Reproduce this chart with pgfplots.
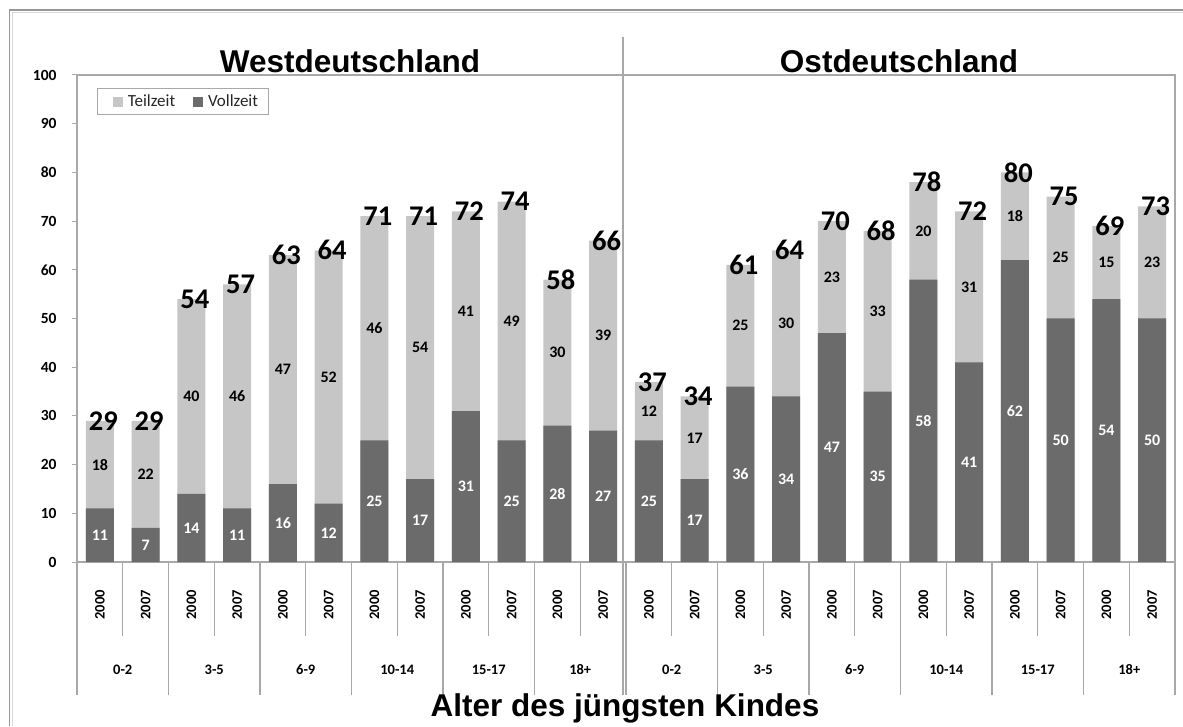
\documentclass[border=0pt]{standalone}
\usepackage{fontspec}
\setmainfont{Carlito}
\newfontfamily\arial{Liberation Sans}
\usepackage{pgfplots}
\pgfplotsset{compat=1.18}
\usepackage{pgfplotstable}
\definecolor{vollc}{HTML}{6B6B6B}
\definecolor{teilc}{HTML}{C6C6C6}
\definecolor{linec}{HTML}{A8A8A8}
\newcommand{\fs}[1]{\fontsize{#1}{#1}\selectfont}

\pgfplotstableread{
x V T S
0 11 18 29
1 7 22 29
2 14 40 54
3 11 46 57
4 16 47 63
5 12 52 64
6 25 46 71
7 17 54 71
8 31 41 72
9 25 49 74
10 28 30 58
11 27 39 66
12 25 12 37
13 17 17 34
14 36 25 61
15 34 30 64
16 47 23 70
17 35 33 68
18 58 20 78
19 41 31 72
20 62 18 80
21 50 25 75
22 54 15 69
23 50 23 73
}\data

\begin{document}
\begin{tikzpicture}[x=1pt,y=1pt]
\path[use as bounding box] (-77,-164) rectangle (1106,562);
% outer frame (left and top)
\draw[linec!120, line width=1.4pt] (-67.5,-164) -- (-67.5,552) -- (1106,552);
\draw[gray!30, line width=1.2pt] (-64.5,-164) -- (-64.5,549.5) -- (1106,549.5);

\begin{axis}[
  at={(0,0)}, anchor=south west, scale only axis,
  width=1098pt, height=487pt,
  xmin=-0.5, xmax=23.5, ymin=0, ymax=100,
  xtick=\empty,
  ytick={0,10,...,100},
  ytick pos=left, tick align=outside, major tick length=5pt,
  tick style={linec, line width=1pt},
  axis line style={linec, line width=1.2pt},
  /pgf/number format/assume math mode=true,
  yticklabel style={font=\bfseries\fs{15.5}, xshift=-12pt},
  clip=false,
  legend columns=2,
  legend style={at={(0,1)}, anchor=north west, xshift=20pt, yshift=-13.5pt,
    draw=linec, line width=0.8pt, font=\fs{17}, text=black!85,
    inner xsep=8pt, inner ysep=4pt,
    /tikz/every odd column/.append style={column sep=3pt},
    /tikz/every even column/.append style={column sep=16pt}},
]
\addlegendimage{legend image code/.code={\path[draw=none, fill=none] (-8pt,-5pt) rectangle (9pt,5pt); \fill[teilc] (0pt,-4.5pt) rectangle (9pt,4.5pt);}}
\addlegendentry{Teilzeit}
\addlegendimage{legend image code/.code={\path[draw=none, fill=none] (0pt,-5pt) rectangle (9pt,5pt); \fill[vollc] (0pt,-4.5pt) rectangle (9pt,4.5pt);}}
\addlegendentry{Vollzeit}
\addplot[forget plot, ybar, bar width=0.61, bar shift=0pt, fill=teilc, draw=none]
  table[x=x, y expr=\thisrow{V}+\thisrow{T}] {\data};
\addplot[forget plot, ybar, bar width=0.61, bar shift=0pt, fill=vollc, draw=none]
  table[x=x, y=V] {\data};
% segment labels
\addplot[forget plot, only marks, mark=*, mark size=0pt, mark options={draw=none, fill=none},
  nodes near coords, point meta=explicit symbolic,
  every node near coord/.append style={font=\bfseries\fs{16}, text=white, anchor=center, inner sep=0pt}]
  table[x=x, y expr=\thisrow{V}/2, meta=V] {\data};
\addplot[forget plot, only marks, mark=*, mark size=0pt, mark options={draw=none, fill=none},
  nodes near coords, point meta=explicit symbolic,
  every node near coord/.append style={font=\bfseries\fs{16}, text=black, anchor=center, inner sep=0pt}]
  table[x=x, y expr=\thisrow{V}+\thisrow{T}/2, meta=T] {\data};
% totals
\addplot[forget plot, only marks, mark=*, mark size=0pt, mark options={draw=none, fill=none},
  nodes near coords, point meta=explicit symbolic,
  every node near coord/.append style={font=\bfseries\fs{28.5}, text=black, anchor=center, inner sep=0pt, xshift=3.5pt}]
  table[x=x, y=S, meta=S] {\data};
\end{axis}

% category separators
\foreach \k in {0,...,24}{
  \ifodd\k
    \draw[linec, line width=1.2pt] ({\k*45.75},0) -- ({\k*45.75},-74);
  \else
    \draw[linec, line width=1.2pt] ({\k*45.75},0) -- ({\k*45.75},-133);
  \fi
}
% year labels
\foreach \k in {0,...,11}{
  \node[rotate=90, font=\bfseries\fs{14.5}, inner sep=0pt] at ({(2*\k+0.5)*45.75},-43) {2000};
  \node[rotate=90, font=\bfseries\fs{14.5}, inner sep=0pt] at ({(2*\k+1.5)*45.75},-43) {2007};
}
% group labels
\foreach \lab [count=\i from 0] in {0-2,3-5,6-9,10-14,15-17,18+,0-2,3-5,6-9,10-14,15-17,18+}{
  \node[font=\bfseries\fs{14.5}, inner sep=0pt] at ({(2*\i+1)*45.75},-108) {\lab};
}
% divider
\draw[linec, line width=2pt] (546,525) -- (546,-133);
% titles
\node[anchor=base, font=\arial\bfseries\fs{31.5}, inner sep=0pt] at (273,489) {Westdeutschland};
\node[anchor=base, font=\arial\bfseries\fs{31.5}, inner sep=0pt] at (822,489) {Ostdeutschland};
\node[anchor=base, font=\arial\bfseries\fs{31.5}, inner sep=0pt] at (548,-154) {Alter des jüngsten Kindes};
\end{tikzpicture}
\end{document}
